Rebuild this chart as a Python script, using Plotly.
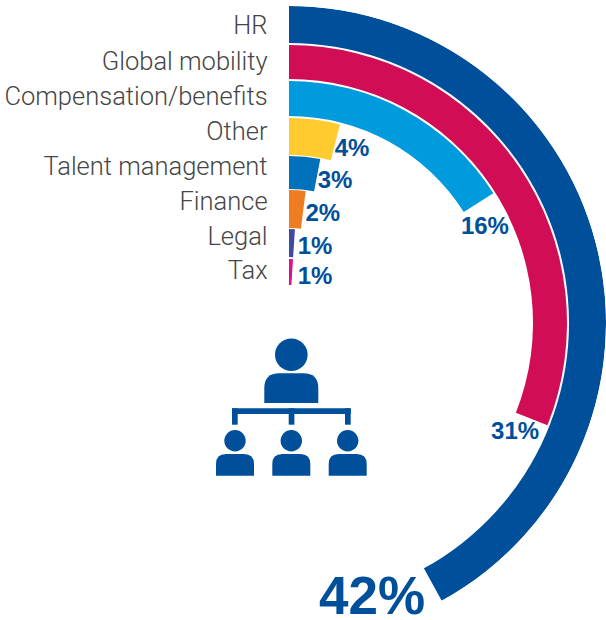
import plotly.graph_objects as go

# ---- data ----
categories = ["HR", "Global mobility", "Compensation/benefits", "Other",
              "Talent management", "Finance", "Legal", "Tax"]
values = [42, 31, 16, 4, 3, 2, 1, 1]
value_labels = ["42%", "31%", "16%", "4%", "3%", "2%", "1%", "1%"]

# ---- layout and style ----
W, H = 606, 620
CX, CY, R = 289, 323, 317
SECTOR_LOW = -66
band_inner = [280, 244, 207, 168, 134, 95, 66, 38]
band_outer = [317, 278, 242, 205, 167, 133, 94, 64]
category_r = [297.5, 261.5, 226, 191, 156, 121, 86, 52]
colors = ["#004F9B", "#D00D55", "#009BDC", "#FFCB2F",
          "#0072BC", "#EE7D21", "#3F4BA0", "#D6128F"]
label_theta = [153.9, 115.9, 64.1, 20.0, 18.1, 17.4, 19.1, 30.0]
label_r = [309.5, 251.3, 217.8, 184.1, 148.3, 113.2, 79.4, 52]
label_pos = ["middle left"] + ["middle center"] * 7
label_sizes = [53, 24, 24, 24, 24, 24, 24, 24]
BLUE = "#004F9B"

angles = [v * 3.6 for v in values]

fig = go.Figure()
fig.add_trace(go.Barpolar(
    r=[o - i for o, i in zip(band_outer, band_inner)],
    base=band_inner,
    theta=[a / 2 for a in angles],
    width=angles,
    marker=dict(color=colors, line=dict(width=0)),
    hoverinfo="skip",
    showlegend=False,
))
fig.add_trace(go.Scatterpolar(
    r=label_r,
    theta=label_theta,
    mode="text",
    text=value_labels,
    textposition=label_pos,
    textfont=dict(family="Liberation Sans", size=label_sizes, color=BLUE, weight="bold"),
    cliponaxis=False,
    hoverinfo="skip",
    showlegend=False,
))

bottom_px = CY + R * 0.91355  # lowest point of the sector (sin 66 deg)
fig.update_layout(
    width=W, height=H,
    margin=dict(l=0, r=0, t=0, b=0),
    paper_bgcolor="white",
    plot_bgcolor="white",
    showlegend=False,
    polar=dict(
        domain=dict(x=[CX / W, 1], y=[1 - bottom_px / H, 1 - (CY - R) / H]),
        sector=[SECTOR_LOW, 90],
        bgcolor="rgba(0,0,0,0)",
        barmode="overlay",
        angularaxis=dict(visible=False, rotation=90, direction="clockwise",
                         showgrid=False),
        radialaxis=dict(
            range=[0, R], angle=90, side="counterclockwise",
            showgrid=False, showline=False,
            tickmode="array", tickvals=category_r, ticktext=categories,
            ticks="outside", ticklen=12, tickcolor="rgba(0,0,0,0)", tickwidth=1,
            tickangle=90,
            tickfont=dict(family="Roboto", size=25.5, color="#454545", weight=300),
        ),
    ),
)


# ---- people icon ----
def px(x):
    return x / W


def py(y):
    return 1 - y / H


def head(cx, cy, r):
    fig.add_shape(type="circle", xref="paper", yref="paper",
                  x0=px(cx - r), x1=px(cx + r), y0=py(cy - r), y1=py(cy + r),
                  fillcolor=BLUE, line=dict(width=0))


def box(x0, x1, y0, y1):
    fig.add_shape(type="rect", xref="paper", yref="paper",
                  x0=px(x0), x1=px(x1), y0=py(y0), y1=py(y1),
                  fillcolor=BLUE, line=dict(width=0))


def body(x0, x1, y0, y1, c):
    p = (f"M{px(x0)},{py(y1)} L{px(x0)},{py(y0 + c)} "
         f"Q{px(x0)},{py(y0)} {px(x0 + c)},{py(y0)} "
         f"L{px(x1 - c)},{py(y0)} Q{px(x1)},{py(y0)} {px(x1)},{py(y0 + c)} "
         f"L{px(x1)},{py(y1)} Z")
    fig.add_shape(type="path", xref="paper", yref="paper", path=p,
                  fillcolor=BLUE, line=dict(width=0))


head(291.3, 354.7, 16.3)
body(264.3, 318.3, 373.3, 403, 15)
box(232, 350.7, 408.3, 414)
for x0 in (232, 288.7, 345):
    box(x0, x0 + 5.7, 408.3, 424.7)
for cx0 in (235, 291.3, 347.7):
    head(cx0, 440.7, 10.7)
    body(cx0 - 19, cx0 + 19, 454, 475.7, 10)

fig.write_html("out.html", config={"displayModeBar": False},
               post_script="document.body.style.margin='0';document.body.style.overflow='hidden';")
